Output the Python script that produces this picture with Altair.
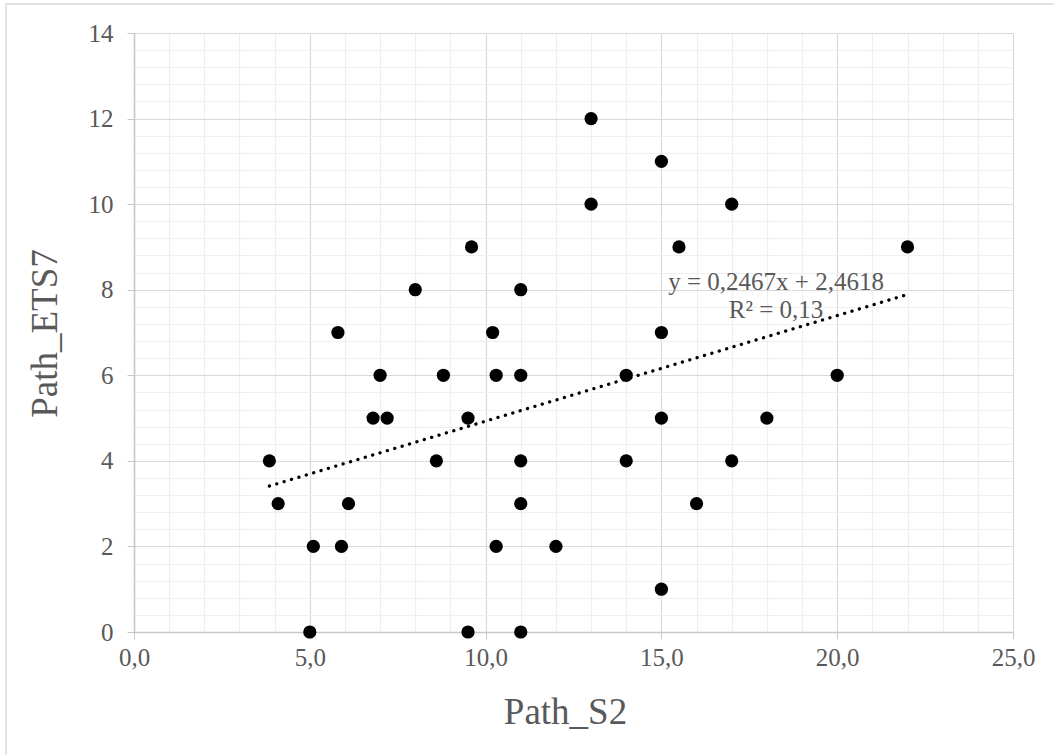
import altair as alt
import pandas as pd

# Data
path_s2 = [3.85, 4.1, 5.1, 5.0, 5.8, 5.9, 6.1, 6.8, 7.0, 7.2, 8.0, 8.6, 8.8, 9.5, 9.5,
           9.6, 10.2, 10.3, 10.3, 11.0, 11.0, 11.0, 11.0, 11.0, 12.0, 13.0, 13.0, 14.0,
           14.0, 15.0, 15.0, 15.0, 15.0, 15.5, 16.0, 17.0, 17.0, 18.0, 20.0, 22.0]
path_ets7 = [4, 3, 2, 0, 7, 2, 3, 5, 6, 5, 8, 4, 6, 5, 0,
             9, 7, 2, 6, 8, 6, 4, 3, 0, 2, 12, 10, 6,
             4, 11, 7, 5, 1, 9, 3, 10, 4, 5, 6, 9]

x_ticks = list(range(0, 26))                       # minor every 1, labelled every 5
y_ticks = [round(i * 0.4, 1) for i in range(36)]   # minor every 0.4, labelled every 2

eq_lines = ["y = 0,2467x + 2,4618", "R² = 0,13"]
eq_x = [18.26, 18.26]
eq_y = [8.18, 7.52]

df = pd.DataFrame({"Path_S2": path_s2, "Path_ETS7": path_ets7})
eq_df = pd.DataFrame({"label": eq_lines, "x": eq_x, "y": eq_y})

FONT = "Liberation Serif"
GREY = "#595959"

x_scale = alt.Scale(domain=[0, 25], nice=False, zero=False)
y_scale = alt.Scale(domain=[0, 14], nice=False, zero=False)

x_axis = alt.Axis(
    values=x_ticks,
    tickCount=200,
    labelExpr="datum.value % 5 === 0 ? replace(format(datum.value, '.1f'), '.', ',') : ''",
    labelOverlap=False,
    grid=True,
    gridColor={"condition": {"test": "datum.value % 5 === 0", "value": "#d9d9d9"}, "value": "#efefef"},
    gridWidth=1.2,
    ticks=True,
    tickSize=7,
    tickColor="#c8c8c8",
    tickOpacity={"condition": {"test": "datum.value % 5 === 0", "value": 1}, "value": 0},
    domain=True,
    domainColor="#c8c8c8",
    domainWidth=1.5,
    labelFont=FONT,
    labelFontSize=25,
    labelColor=GREY,
    labelPadding=6,
    labelFlush=False,
    title="Path_S2",
    titleFont=FONT,
    titleFontSize=37,
    titleFontWeight="normal",
    titleColor=GREY,
    titleX=431,
    titleY=80,
    titleBaseline="middle",
    titleAlign="center",
)

y_axis = alt.Axis(
    values=y_ticks,
    tickCount=200,
    labelExpr="datum.value % 2 === 0 ? format(datum.value, 'd') : ''",
    labelOverlap=False,
    grid=True,
    gridColor={"condition": {"test": "datum.value % 2 === 0", "value": "#d9d9d9"}, "value": "#efefef"},
    gridWidth=1.2,
    ticks=True,
    tickSize=7,
    tickColor="#c8c8c8",
    tickOpacity={"condition": {"test": "datum.value % 2 === 0", "value": 1}, "value": 0},
    domain=True,
    domainColor="#c8c8c8",
    domainWidth=1.5,
    labelFont=FONT,
    labelFontSize=25,
    labelColor=GREY,
    labelPadding=14,
    labelFlush=False,
    title="Path_ETS7",
    titleFont=FONT,
    titleFontSize=37,
    titleFontWeight="normal",
    titleColor=GREY,
    titleX=-89,
    titleY=300,
    titleAngle=-90,
    titleBaseline="middle",
    titleAlign="center",
)

border = alt.Chart(alt.Data(values=[{}])).mark_rect(
    fill=None, filled=False, stroke="#d9d9d9", strokeWidth=1.5, clip=False
).encode(
    x=alt.value(-128), x2=alt.value(926),
    y=alt.value(-29), y2=alt.value(727),
)

points = alt.Chart(df).mark_circle(size=175, color="black", opacity=1).encode(
    x=alt.X("Path_S2:Q", scale=x_scale, axis=x_axis),
    y=alt.Y("Path_ETS7:Q", scale=y_scale, axis=y_axis),
)

trend = alt.Chart(df).transform_regression(
    "Path_S2", "Path_ETS7", method="linear"
).mark_line(
    color="black", strokeWidth=3.3, strokeDash=[0.1, 7.6], strokeCap="round"
).encode(
    x=alt.X("Path_S2:Q", scale=x_scale),
    y=alt.Y("Path_ETS7:Q", scale=y_scale),
)

eq_text = alt.Chart(eq_df).mark_text(
    font=FONT, fontSize=25, color=GREY, align="center", baseline="middle"
).encode(
    x=alt.X("x:Q", scale=x_scale),
    y=alt.Y("y:Q", scale=y_scale),
    text="label:N",
)

chart = alt.layer(border, points, trend, eq_text).properties(
    width=879,
    height=599,
    padding={"left": 134, "top": 33, "right": 41, "bottom": 123},
    autosize=alt.AutoSizeParams(type="none"),
    background="white",
).configure_view(stroke=None)

chart.save("out.html", embed_options={"renderer": "svg", "actions": False})
